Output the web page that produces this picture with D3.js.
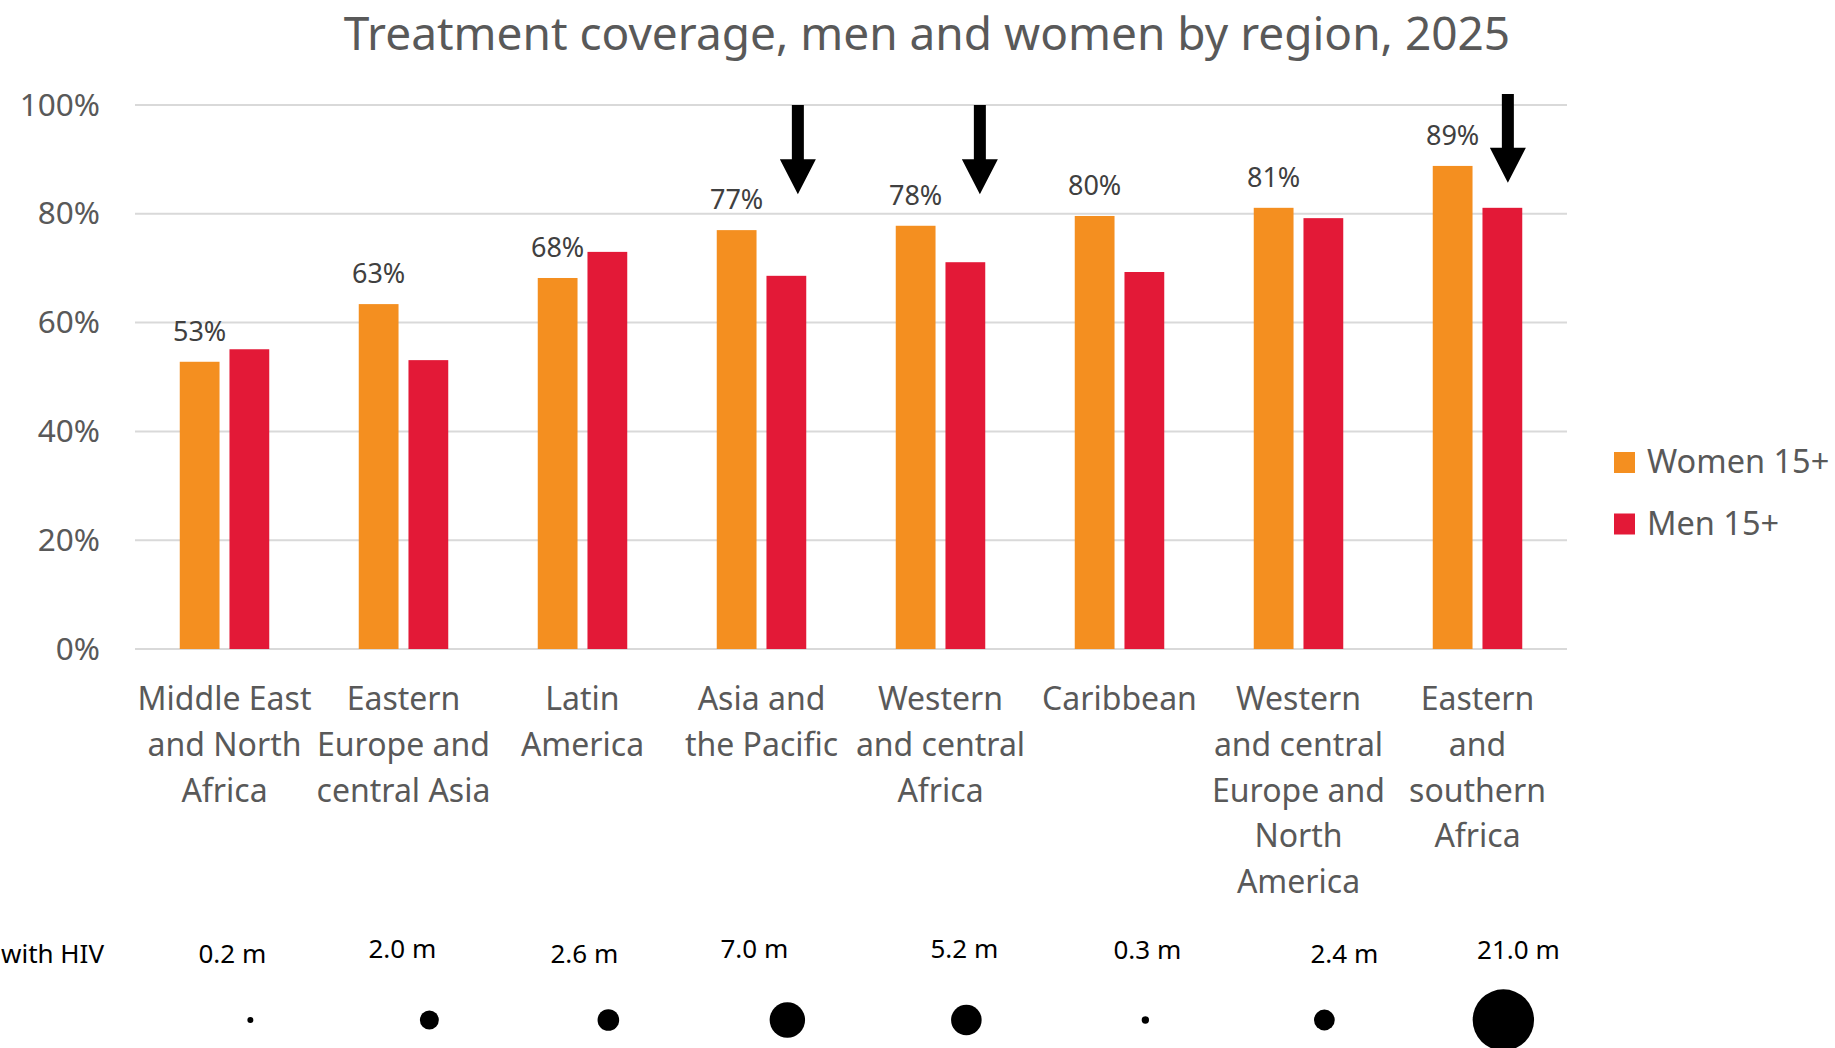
<html>
<head>
    <title>Treatment coverage</title>
    <style>
        body { margin: 0; background: #fff; font-family: 'Noto Sans', 'Open Sans', sans-serif; }
        svg { display: block; }
    </style>
</head>
<body>
<div id="chart-holder"></div>
<script src="https://d3js.org/d3.v7.min.js"></script>
<script>
// ---- data ----
var regions = [
    'Middle East and North Africa',
    'Eastern Europe and central Asia',
    'Latin America',
    'Asia and the Pacific',
    'Western and central Africa',
    'Caribbean',
    'Western and central Europe and North America',
    'Eastern and southern Africa'
];
// wrapped category labels as in the original
var regionLines = [
    ['Middle East', 'and North', 'Africa'],
    ['Eastern', 'Europe and', 'central Asia'],
    ['Latin', 'America'],
    ['Asia and', 'the Pacific'],
    ['Western', 'and central', 'Africa'],
    ['Caribbean'],
    ['Western', 'and central', 'Europe and', 'North', 'America'],
    ['Eastern', 'and', 'southern', 'Africa']
];
var series = ['Women 15+', 'Men 15+'];
var women = [52.8, 63.4, 68.2, 77.0, 77.8, 79.6, 81.1, 88.8];
var men = [55.1, 53.1, 73.0, 68.6, 71.1, 69.3, 79.2, 81.1];
var womenLabels = ['53%', '63%', '68%', '77%', '78%', '80%', '81%', '89%'];
var yTicks = [0, 20, 40, 60, 80, 100];
var plhiv = [0.2, 2.0, 2.6, 7.0, 5.2, 0.3, 2.4, 21.0];   // millions living with HIV
var plhivLabels = ['0.2 m', '2.0 m', '2.6 m', '7.0 m', '5.2 m', '0.3 m', '2.4 m', '21.0 m'];
var arrowRegions = ['Asia and the Pacific', 'Western and central Africa', 'Eastern and southern Africa'];
var arrowFrom = [100, 100, 102];
var arrowTo = [83.6, 83.6, 85.7];

// ---- layout ----
var width = 1835;
var height = 1048;
var plot = {left: 135, right: 1567, top: 105, bottom: 649};
var colors = {'Women 15+': '#F48F20', 'Men 15+': '#E31937'};
var textGrey = '#595959';
// hand placed nudges for the bottom labels and arrows
var hivLabelNudge = [[-17, 963], [-26, 958], [-23, 963], [-32, 958], [-1, 958], [3, 959], [21, 963], [16, 959]];
var arrowNudge = [11.5, 14.5, 5.5];

var svg = d3.select('#chart-holder')
    .append('svg')
    .attr('width', width)
    .attr('height', height);

// scales
var x0 = d3.scaleBand()
    .domain(regions)
    .range([plot.left, plot.right])
    .paddingInner(0.5)
    .paddingOuter(0.25);

var x1 = d3.scaleBand()
    .domain(series)
    .range([0, x0.bandwidth()])
    .paddingInner(0.2);

var y = d3.scaleLinear()
    .domain([0, 100])
    .range([plot.bottom, plot.top]);

var r = d3.scaleSqrt()
    .domain([0, 21])
    .range([0, 30.7]);

// gridlines
svg.append('g')
    .selectAll('line')
    .data(yTicks)
    .enter()
    .append('line')
    .attr('x1', plot.left)
    .attr('x2', plot.right)
    .attr('y1', function(d) { return y(d); })
    .attr('y2', function(d) { return y(d); })
    .attr('stroke', '#D9D9D9')
    .attr('stroke-width', 2);

// y axis
var yAxis = d3.axisLeft(y)
    .tickValues(yTicks)
    .tickFormat(function(d) { return d + '%'; })
    .tickSize(0)
    .tickPadding(35);

svg.append('g')
    .attr('class', 'y-axis')
    .attr('transform', 'translate(' + plot.left + ',0)')
    .call(yAxis)
    .call(function(g) {
        g.select('.domain').remove();
        g.selectAll('text')
            .attr('fill', textGrey)
            .style('font-size', '31.5px')
            .style('font-family', "'Noto Sans', sans-serif");
    });

// bars
var rows = regions.map(function(d, i) {
    return {region: d, values: [
        {key: 'Women 15+', value: women[i]},
        {key: 'Men 15+', value: men[i]}
    ]};
});

var groups = svg.selectAll('.region')
    .data(rows)
    .enter()
    .append('g')
    .attr('class', 'region')
    .attr('transform', function(d) { return 'translate(' + x0(d.region) + ',0)'; });

groups.selectAll('rect')
    .data(function(d) { return d.values; })
    .enter()
    .append('rect')
    .attr('x', function(d) { return x1(d.key); })
    .attr('y', function(d) { return y(d.value); })
    .attr('width', x1.bandwidth())
    .attr('height', function(d) { return y(0) - y(d.value); })
    .attr('fill', function(d) { return colors[d.key]; });

// data labels on the women bars
svg.append('g')
    .selectAll('text')
    .data(regions)
    .enter()
    .append('text')
    .attr('x', function(d) { return x0(d) + x1('Women 15+') + x1.bandwidth() / 2; })
    .attr('y', function(d, i) { return y(women[i]) - 21; })
    .attr('text-anchor', 'middle')
    .attr('fill', '#404040')
    .style('font-size', '27px')
    .text(function(d, i) { return womenLabels[i]; });

// category labels
var catLabels = svg.append('g')
    .selectAll('text')
    .data(regions)
    .enter()
    .append('text')
    .attr('x', function(d) { return x0(d) + x0.bandwidth() / 2; })
    .attr('y', 710)
    .attr('text-anchor', 'middle')
    .attr('fill', textGrey)
    .style('font-size', '32px');

catLabels.selectAll('tspan')
    .data(function(d, i) { return regionLines[i]; })
    .enter()
    .append('tspan')
    .attr('x', function() { return d3.select(this.parentNode).attr('x'); })
    .attr('dy', function(d, i) { return i === 0 ? 0 : 45.8; })
    .text(function(d) { return d; });

// arrows
var arrowHead = {w: 36, h: 35, shaft: 12};
svg.append('g')
    .selectAll('path')
    .data(arrowRegions)
    .enter()
    .append('path')
    .attr('d', function(d, i) {
        var cx = x0(d) + x1('Men 15+') + x1.bandwidth() / 2 + arrowNudge[i];
        var top = y(arrowFrom[i]);
        var tip = y(arrowTo[i]);
        var neck = tip - arrowHead.h;
        var s = arrowHead.shaft / 2;
        var w = arrowHead.w / 2;
        return 'M' + (cx - s) + ',' + top +
            'L' + (cx + s) + ',' + top +
            'L' + (cx + s) + ',' + neck +
            'L' + (cx + w) + ',' + neck +
            'L' + cx + ',' + tip +
            'L' + (cx - w) + ',' + neck +
            'L' + (cx - s) + ',' + neck + 'Z';
    })
    .attr('fill', '#000');

// legend
var legend = svg.append('g')
    .attr('transform', 'translate(1614,452)');

var legendEntries = legend.selectAll('g')
    .data(series)
    .enter()
    .append('g')
    .attr('transform', function(d, i) { return 'translate(0,' + (i * 61.5) + ')'; });

legendEntries.append('rect')
    .attr('width', 21)
    .attr('height', 21)
    .attr('fill', function(d) { return colors[d]; });

legendEntries.append('text')
    .attr('x', 33)
    .attr('y', 21)
    .attr('fill', textGrey)
    .style('font-size', '32.5px')
    .text(function(d) { return d; });

// people living with HIV row (the label is cut at the page edge in the original)
svg.append('text')
    .attr('x', 1)
    .attr('y', 963)
    .attr('fill', '#000')
    .style('font-size', '26px')
    .text('with HIV');

svg.append('g')
    .selectAll('text')
    .data(regions)
    .enter()
    .append('text')
    .attr('x', function(d, i) { return x0(d) + x1('Men 15+') + x1.bandwidth() / 2 + hivLabelNudge[i][0]; })
    .attr('y', function(d, i) { return hivLabelNudge[i][1]; })
    .attr('text-anchor', 'middle')
    .attr('fill', '#000')
    .style('font-size', '26px')
    .text(function(d, i) { return plhivLabels[i]; });

svg.append('g')
    .selectAll('circle')
    .data(regions)
    .enter()
    .append('circle')
    .attr('cx', function(d) { return x0(d) + x1('Men 15+') + x1.bandwidth() / 2 + 1; })
    .attr('cy', 1020)
    .attr('r', function(d, i) { return r(plhiv[i]); })
    .attr('fill', '#000');

// title
svg.append('text')
    .attr('x', 927)
    .attr('y', 50)
    .attr('text-anchor', 'middle')
    .attr('fill', textGrey)
    .style('font-size', '46px')
    .text('Treatment coverage, men and women by region, 2025');
</script>
</body>
</html>
